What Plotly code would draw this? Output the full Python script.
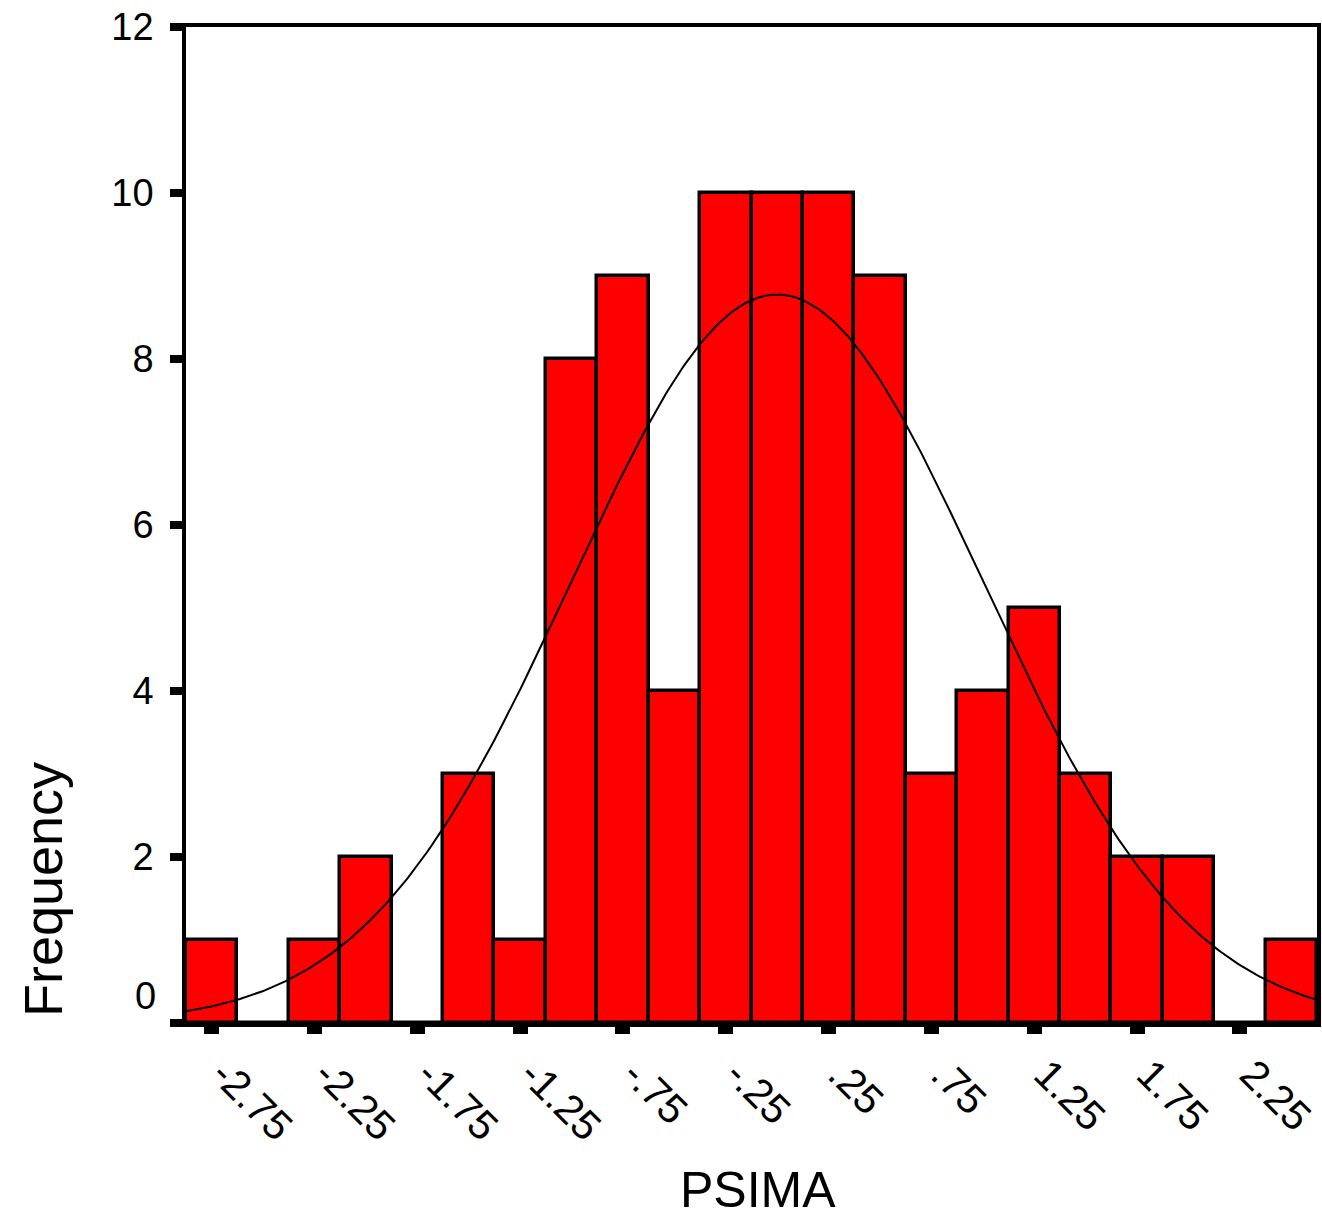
import numpy as np
import plotly.graph_objects as go

# Histogram data (bin centers and frequencies)
bin_centers = [-2.75, -2.5, -2.25, -2.0, -1.75, -1.5, -1.25, -1.0, -0.75, -0.5, -0.25,
               0.0, 0.25, 0.5, 0.75, 1.0, 1.25, 1.5, 1.75, 2.0, 2.25, 2.5]
frequencies = [1, 0, 1, 2, 0, 3, 1, 8, 9, 4, 10,
               10, 10, 9, 3, 4, 5, 3, 2, 2, 0, 1]
bin_width = 0.25

# Normal curve parameters (fitted)
curve_mean = 0.0
curve_sd = 1.0
n_total = sum(frequencies)

x_tickvals = [-2.75, -2.25, -1.75, -1.25, -0.75, -0.25, 0.25, 0.75, 1.25, 1.75, 2.25]
x_ticktext = ["-2.75", "-2.25", "-1.75", "-1.25", "-.75", "-.25", ".25", ".75", "1.25", "1.75", "2.25"]
y_tickvals = [0, 2, 4, 6, 8, 10, 12]
y_ticktext = ["0", "2", "4", "6", "8", "10", "12"]

x_min = bin_centers[0] - bin_width / 2
x_max = bin_centers[-1] + bin_width / 2

xc = np.linspace(x_min, x_max, 400)
yc = n_total * bin_width / (curve_sd * np.sqrt(2 * np.pi)) * np.exp(-0.5 * ((xc - curve_mean) / curve_sd) ** 2)

FONT = "Liberation Sans, Arial, sans-serif"

fig = go.Figure()
fig.add_trace(go.Bar(
    x=bin_centers, y=frequencies, width=bin_width,
    marker=dict(color="#FF0000", line=dict(color="black", width=3.5)),
    showlegend=False, hoverinfo="x+y",
))
fig.add_trace(go.Scatter(
    x=xc, y=yc, mode="lines",
    line=dict(color="black", width=2),
    showlegend=False, hoverinfo="skip",
))

fig.update_layout(
    width=1322, height=1219,
    margin=dict(l=186, r=5, t=27, b=196, autoexpand=False),
    plot_bgcolor="white", paper_bgcolor="white",
    bargap=0,
    font=dict(family=FONT, color="black"),
    xaxis=dict(
        range=[x_min, x_max], tickmode="array", tickvals=x_tickvals, ticktext=x_ticktext,
        tickangle=45, tickfont=dict(size=41, family=FONT, color="black"),
        ticks="outside", ticklen=7, tickwidth=15, tickcolor="black",
        showline=True, linecolor="black", linewidth=3.5, mirror=True,
        showgrid=False, zeroline=False, ticklabelstandoff=0, ticklabelshift=12,
        automargin=False,
    ),
    yaxis=dict(
        range=[0, 12], tickmode="array", tickvals=y_tickvals,
        ticktext=[""] + y_ticktext[1:],
        tickfont=dict(size=38, family=FONT, color="black"),
        ticks="outside", ticklen=12, tickwidth=8, tickcolor="black",
        showline=True, linecolor="black", linewidth=3.5, mirror=True,
        showgrid=False, zeroline=False, ticklabelstandoff=9,
        automargin=False,
    ),
    annotations=[
        dict(text=y_ticktext[0], xref="paper", yref="y", x=0, y=y_tickvals[0],
             xanchor="right", yanchor="middle", xshift=-28, yshift=27,
             showarrow=False, font=dict(size=38, family=FONT, color="black")),
        dict(text="Frequency", xref="paper", yref="paper", x=-0.1264, y=0.1335,
             xanchor="center", yanchor="middle", textangle=-90,
             showarrow=False, font=dict(size=54, family=FONT, color="black")),
        dict(text="PSIMA", xref="paper", yref="paper", x=0.5057, y=-0.168,
             xanchor="center", yanchor="middle",
             showarrow=False, font=dict(size=50, family=FONT, color="black")),
    ],
)

fig.write_html("out.html")
